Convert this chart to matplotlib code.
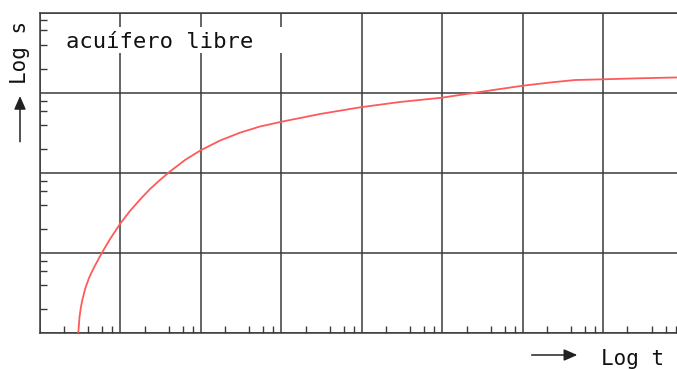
import numpy as np
import matplotlib
matplotlib.use("Agg")
import matplotlib.pyplot as plt
from matplotlib.ticker import LogLocator, NullFormatter
from matplotlib.patches import Rectangle

# curve, in decades (log10 t, log10 s)
log_t = [0.478, 0.493, 0.508, 0.528, 0.565, 0.611, 0.648, 0.686, 0.769, 0.872,
         1.000, 1.120, 1.245, 1.369, 1.493, 1.617, 1.804, 1.994, 2.239, 2.487,
         2.735, 3.005, 3.481, 3.984, 4.475, 4.990, 5.468, 5.999, 6.338, 6.648,
         7.000, 7.456, 7.916]
log_s = [0.000, 0.200, 0.310, 0.415, 0.560, 0.690, 0.770, 0.845, 1.000, 1.175,
         1.370, 1.526, 1.669, 1.800, 1.913, 2.019, 2.162, 2.281, 2.405, 2.503,
         2.580, 2.640, 2.736, 2.820, 2.886, 2.939, 3.011, 3.089, 3.129, 3.160,
         3.169, 3.182, 3.192]

label_text = "acuífero libre"
x_label = "Log t"
y_label = "Log s"

t = 10.0 ** np.array(log_t)
s = 10.0 ** np.array(log_s)

W, H = 677, 369
fig = plt.figure(figsize=(W / 100, H / 100), dpi=100)
ax = fig.add_axes([39.8 / W, (H - 333.3) / H, (W - 39.8) / W, (333.3 - 12.7) / H])

grid_c = "#3a3a3a"
ax.set_xscale("log")
ax.set_yscale("log")
ax.set_xlim(1, 10 ** 7.916)
ax.set_ylim(1, 10 ** 4)

ax.xaxis.set_major_locator(LogLocator(base=10, numticks=20))
ax.yaxis.set_major_locator(LogLocator(base=10, numticks=20))
ax.xaxis.set_minor_locator(LogLocator(base=10, subs=[2, 4, 6, 8], numticks=20))
ax.yaxis.set_minor_locator(LogLocator(base=10, subs=[2, 4, 6, 8], numticks=20))
for axis in (ax.xaxis, ax.yaxis):
    axis.set_major_formatter(NullFormatter())
    axis.set_minor_formatter(NullFormatter())
ax.tick_params(which="major", length=0)
ax.tick_params(which="minor", direction="in", length=5, width=1.0, color=grid_c)
ax.grid(True, which="major", color=grid_c, linewidth=1.1)

for side in ["left", "bottom", "top"]:
    ax.spines[side].set_color(grid_c)
    ax.spines[side].set_linewidth(1.1)
ax.spines["right"].set_visible(False)

ax.plot(t, s, color="#ff5a5a", linewidth=1.3, zorder=3)

# white box behind label
fig.patches.append(Rectangle((55 / W, (H - 53.3) / H), (290 - 55) / W, 26.6 / H,
                             transform=fig.transFigure, facecolor="white",
                             edgecolor="none", zorder=5))
fig.text(66 / W, (H - 48.3) / H, label_text, family="DejaVu Sans Mono",
         fontsize=16, color="#111111", va="baseline", ha="left", zorder=6)

# axis labels with arrows
fig.text(20 / W, (H - 52.5) / H, y_label, family="DejaVu Sans Mono", fontsize=15,
         rotation=90, ha="center", va="center", color="#111111")
fig.text(601 / W, (H - 365) / H, x_label, family="DejaVu Sans Mono", fontsize=15,
         ha="left", va="baseline", color="#111111")

arrow_kw = dict(arrowstyle="-|>,head_length=0.8,head_width=0.35", color="#222222",
                lw=1.1, shrinkA=0, shrinkB=0)
ax.annotate("", xy=(20, H - 96), xytext=(20, H - 141.7),
            xycoords="figure pixels", textcoords="figure pixels",
            arrowprops=arrow_kw, annotation_clip=False)
ax.annotate("", xy=(577.3, H - 355), xytext=(531.7, H - 355),
            xycoords="figure pixels", textcoords="figure pixels",
            arrowprops=arrow_kw, annotation_clip=False)

fig.savefig("out.png", dpi=100)
